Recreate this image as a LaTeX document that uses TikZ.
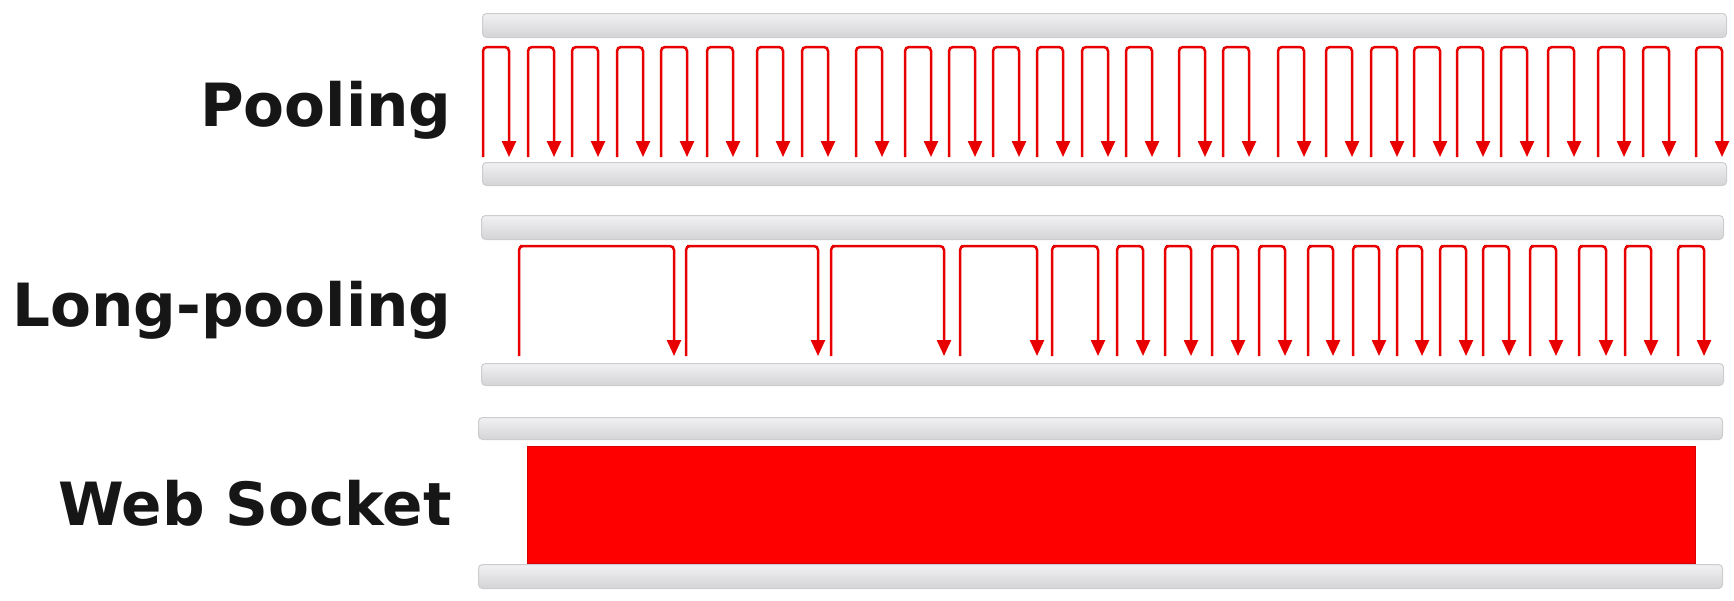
\documentclass[tikz,border=0pt]{standalone}
\usepackage{fontspec}
\setmainfont{DejaVu Sans}
\usepackage{tikz}
\usetikzlibrary{arrows.meta}
\definecolor{ink}{HTML}{161616}
\definecolor{wire}{HTML}{E80000}
\definecolor{sockred}{HTML}{FF0000}
\definecolor{railTop}{HTML}{F1F1F3}
\definecolor{railBot}{HTML}{D4D4D7}
\definecolor{railEdge}{HTML}{CDCDD0}

\begin{document}
\begin{tikzpicture}[x=0.5pt, y=-0.5pt,
  rail/.style={draw=railEdge, line width=0.5pt, rounded corners=2pt,
               top color=railTop, bottom color=railBot, anchor=north west,
               inner sep=0pt, minimum width=622pt, minimum height=12pt},
  wire/.style={draw=wire, line width=1.25pt, rounded corners=2pt,
               -{Triangle[width=7pt,length=8pt]}},
  lbl/.style={anchor=base east, inner sep=0pt, text=ink,
              font=\fontsize{29.8}{34}\selectfont\bfseries}]
  \useasboundingbox (0,0) rectangle (1734,600);

  % labels
  \node[lbl] (poll-lbl) at (452,126) {Pooling};
  \node[lbl] (long-lbl) at (452,326) {Long-pooling};
  \node[lbl] (sock-lbl) at (452,525) {Web Socket};

  % rails
  \node[rail] (poll-top) at (482,13) {};
  \node[rail, minimum height=11.5pt] (poll-bot) at (482,162) {};
  \node[rail, minimum width=621pt] (long-top) at (481,215) {};
  \node[rail, minimum width=621pt, minimum height=11pt] (long-bot) at (481,363) {};
  \node[rail, minimum height=11pt] (sock-top) at (478,417) {};
  \node[rail] (sock-bot) at (478,564) {};

  % pooling: short request loops
  \foreach \x [count=\i] in {483,528,572,617,661,707,757,802,856,905,949,993,
      1037,1082,1126,1179,1223,1278,1326,1371,1414,1457,1501,1548,1598,1643,1696} {
    \coordinate (poll\i-s) at (\x,157);
    \coordinate (poll\i-t) at (\x+13,47);
    \coordinate (poll\i-e) at (\x+26,157);
    \draw[wire] (poll\i-s) |- (poll\i-t) -| (poll\i-e);
  }

  % long-pooling: held requests
  \foreach \x/\y [count=\i] in {519/674,686/818,831/944,960/1037,1052/1098,
      1117/1143,1165/1191,1212/1238,1259/1285,1308/1333,1353/1379,1397/1422,
      1440/1466,1483/1509,1530/1556,1579/1606,1625/1651,1678/1704} {
    \coordinate (long\i-s) at (\x,356);
    \coordinate (long\i-t) at (\x+5,246);
    \coordinate (long\i-e) at (\y,356);
    \draw[wire] (long\i-s) |- (long\i-t) -| (long\i-e);
  }

  % web socket: open channel
  \node[draw=red!85!black, line width=0.4pt, fill=sockred, anchor=north west,
        inner sep=0pt, minimum width=584pt, minimum height=58.5pt] (sock-chan) at (527,446) {};
\end{tikzpicture}
\end{document}
